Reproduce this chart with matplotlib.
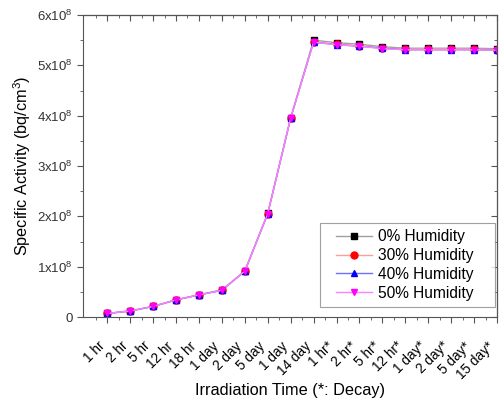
import matplotlib
matplotlib.use("Agg")
import matplotlib.pyplot as plt
import numpy as np
from matplotlib.legend_handler import HandlerLine2D
from matplotlib.ticker import FixedLocator, MultipleLocator

plt.rcParams["font.family"] = ["Liberation Sans", "DejaVu Sans"]
plt.rcParams["mathtext.fontset"] = "custom"
plt.rcParams["mathtext.rm"] = "Liberation Sans"
plt.rcParams["mathtext.it"] = "Liberation Sans"

categories = ["1 hr", "2 hr", "5 hr", "12 hr", "18 hr", "1 day", "2 day", "5 day",
              "1 day", "14 day", "1 hr*", "2 hr*", "5 hr*", "12 hr*", "1 day*",
              "2 day*", "5 day*", "15 day*"]

# valores en unidades de 1e8 bq/cm3
h0 = [0.07, 0.12, 0.21, 0.34, 0.44, 0.54, 0.91, 2.06, 3.96, 5.50, 5.45, 5.42,
      5.37, 5.34, 5.34, 5.34, 5.34, 5.33]
h30 = [0.07, 0.12, 0.21, 0.34, 0.44, 0.53, 0.91, 2.05, 3.95, 5.47, 5.42, 5.39,
       5.34, 5.32, 5.32, 5.32, 5.32, 5.31]
h40 = [0.07, 0.12, 0.21, 0.34, 0.44, 0.53, 0.91, 2.05, 3.95, 5.46, 5.41, 5.38,
       5.34, 5.31, 5.31, 5.31, 5.31, 5.30]
h50 = [0.07, 0.12, 0.21, 0.34, 0.44, 0.53, 0.91, 2.05, 3.95, 5.46, 5.41, 5.38,
       5.33, 5.31, 5.31, 5.31, 5.31, 5.30]

series = [
    ("0% Humidity", h0, "#a0a0a0", "black", "s"),
    ("30% Humidity", h30, "#ff9c9c", "red", "o"),
    ("40% Humidity", h40, "#7070ff", "blue", "^"),
    ("50% Humidity", h50, "#ff80ff", "magenta", "v"),
]

x = np.arange(len(categories))

fig = plt.figure(figsize=(5.01, 4.0), dpi=100)
ax = fig.add_axes([0.166, 0.2075, 0.826, 0.755])

for label, vals, lc, mc, mk in series:
    ax.plot(x, np.array(vals) * 1e8, color=lc, lw=1.0, marker=mk, ms=5,
            mfc=mc, mec=mc, label=label)

ax.set_xlim(-1.05, 17.0)
ax.set_ylim(0, 6e8)

ax.set_xticks(x)
# va="bottom" para que la etiqueta quede toda a la izquierda del tick
ax.set_xticklabels(categories, rotation=45, ha="right", va="bottom",
                   rotation_mode="anchor", fontsize=9.8)
ax.xaxis.set_minor_locator(FixedLocator(np.arange(-0.5, 17, 1.0)))

yt = np.arange(0, 7) * 1e8
ylabels = ["0"] + [r"$%d\mathregular{x}10^{8}$" % i for i in range(1, 7)]
ax.set_yticks(yt)
ax.set_yticklabels(ylabels, fontsize=9.5, color="#333333")
ax.yaxis.set_minor_locator(MultipleLocator(0.5e8))

ax.tick_params(which="both", direction="out", color="#555555")
ax.tick_params(which="major", length=4)
ax.tick_params(which="minor", length=2.5)
ax.tick_params(axis="x", which="major", pad=19)
for s in ax.spines.values():
    s.set_color("#555555")

# ejes espejo arriba y a la derecha con ticks hacia dentro
top = ax.secondary_xaxis("top")
top.set_xticks(x)
top.set_xticklabels([])
top.xaxis.set_minor_locator(FixedLocator(np.arange(-0.5, 17, 1.0)))
top.tick_params(which="both", direction="in", color="#555555")
top.tick_params(which="major", length=4)
top.tick_params(which="minor", length=2.5)
right = ax.secondary_yaxis("right")
right.set_yticks(yt)
right.set_yticklabels([])
right.yaxis.set_minor_locator(MultipleLocator(0.5e8))
right.tick_params(which="both", direction="in", color="#555555")
right.tick_params(which="major", length=4)
right.tick_params(which="minor", length=2.5)

ax.set_xlabel("Irradiation Time (*: Decay)", fontsize=11.7, labelpad=1)
ax.set_ylabel(r"Specific Activity (bq/cm$^{3}$)", fontsize=11.7, labelpad=3)

# leyenda con margen a la izquierda del símbolo, como en Origin
leg = ax.legend(loc="lower left", bbox_to_anchor=(0.5725, 0.033, 0.4227, 0.3),
                mode="expand", fontsize=11.2, frameon=True, fancybox=False,
                edgecolor="#888888", handlelength=2.95, borderpad=0.4,
                labelspacing=0.25, handletextpad=0.35, borderaxespad=0,
                handler_map={matplotlib.lines.Line2D: HandlerLine2D(xpad=0.65)})
leg.get_frame().set_linewidth(0.8)

fig.savefig("out.png", dpi=100)
plt.close(fig)
